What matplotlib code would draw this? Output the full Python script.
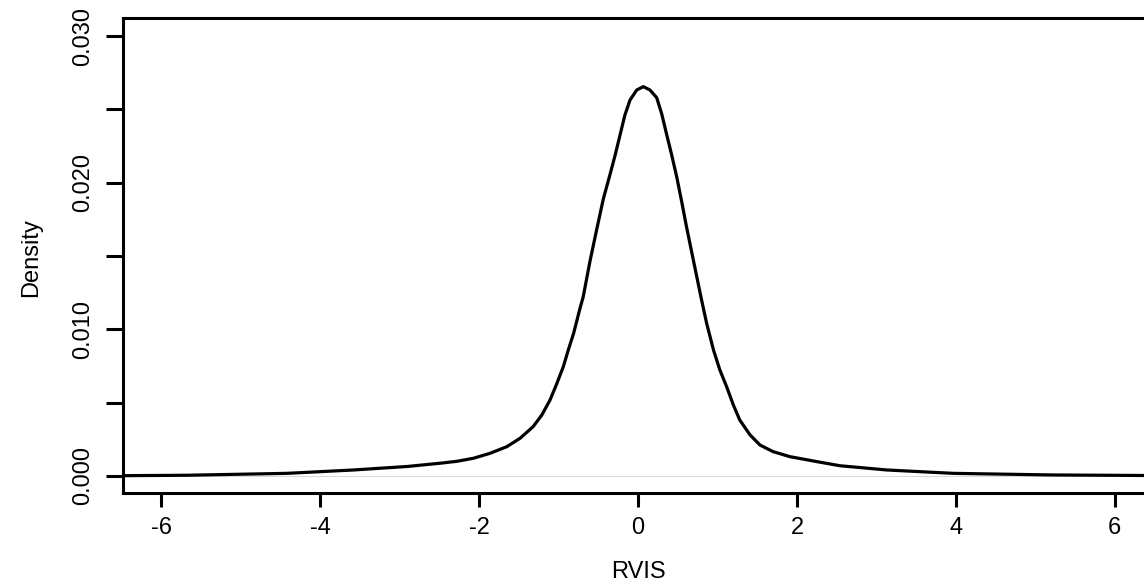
import matplotlib
matplotlib.use("Agg")
import matplotlib.pyplot as plt

# values
rvis = [-6.5, -5.68, -4.42, -3.58, -2.9, -2.49, -2.28, -2.07, -1.86, -1.65,
        -1.484, -1.32, -1.21, -1.107, -1.02, -0.94, -0.877, -0.81, -0.73, -0.69,
        -0.604, -0.52, -0.436, -0.35, -0.289, -0.226, -0.164, -0.10, -0.016, 0.067,
        0.151, 0.235, 0.298, 0.36, 0.424, 0.487, 0.55, 0.61, 0.696, 0.80,
        0.864, 0.95, 1.03, 1.115, 1.20, 1.28, 1.41, 1.535, 1.70, 1.91,
        2.25, 2.54, 3.13, 3.97, 5.22, 6.5]
density = [0.00002, 0.00005, 0.00018, 0.00041, 0.00065, 0.00087, 0.00100, 0.00121, 0.00155, 0.0020,
           0.00257, 0.00336, 0.00416, 0.00518, 0.00632, 0.00745, 0.00859, 0.00973, 0.01143, 0.0122,
           0.01465, 0.0168, 0.0189, 0.0206, 0.02185, 0.02325, 0.02463, 0.02564, 0.02632, 0.02655,
           0.02632, 0.02580, 0.02470, 0.02330, 0.02189, 0.0204, 0.0187, 0.0170, 0.01473, 0.0120,
           0.0104, 0.00859, 0.00723, 0.00609, 0.00484, 0.00382, 0.0028, 0.00211, 0.00166, 0.00132,
           0.00098, 0.00070, 0.00041, 0.00018, 0.00007, 0.00003]
x_ticks = [-6, -4, -2, 0, 2, 4, 6]
y_ticks = [0.000, 0.005, 0.010, 0.015, 0.020, 0.025, 0.030]
y_labels = ["0.000", "", "0.010", "", "0.020", "", "0.030"]

plt.rcParams['font.family'] = ['Liberation Sans', 'DejaVu Sans']

W, H = 1144, 586
fig = plt.figure(figsize=(W / 100, H / 100), dpi=100)
ax = fig.add_axes([123 / W, 93 / H, 1030 / W, 475 / H])

ax.plot(rvis, density, color='black', lw=2.3, solid_joinstyle='round', solid_capstyle='round')
ax.axhline(0, color='#d0d0d0', lw=0.6, zorder=0)

ax.set_xlim(-6.48, 6.48)
ax.set_ylim(-0.00116, 0.03123)

ax.set_xticks(x_ticks)
ax.set_xticklabels([str(t) for t in x_ticks])
ax.set_yticks(y_ticks)
ax.set_yticklabels(y_labels, rotation=90, va='center')

ax.tick_params(axis='both', direction='out', width=2.2, labelsize=17, colors='black')
ax.tick_params(axis='x', length=10, pad=7)
ax.tick_params(axis='y', length=12, pad=9)

for s in ax.spines.values():
    s.set_linewidth(2.2)
    s.set_color('black')

fig.text(638 / W, 8 / H, 'RVIS', fontsize=17, ha='center', va='baseline')
fig.text(31 / W, (H - 258) / H, 'Density', fontsize=17, rotation=90, ha='center', va='center')

fig.savefig('out.png', dpi=100)
